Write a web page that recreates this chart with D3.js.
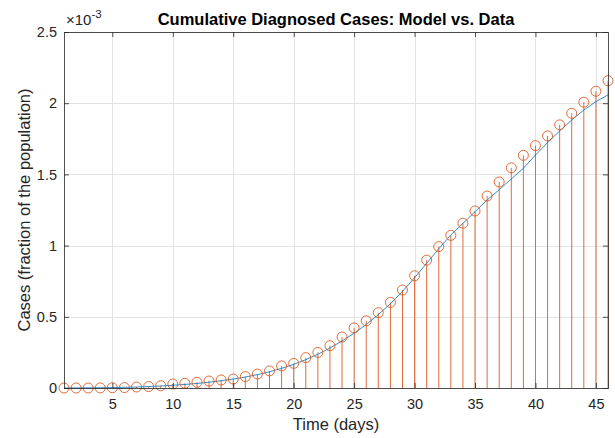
<!DOCTYPE html>
<html><head><meta charset="utf-8">
<script src="https://cdn.jsdelivr.net/npm/d3@7"></script>
<style>
html,body{margin:0;padding:0;background:#fff;}
svg{display:block;font-family:"Liberation Sans",Arial,Helvetica,sans-serif;}
</style></head>
<body>
<svg id="chart" width="615" height="438"></svg>
<script>
// Days
const days = d3.range(1, 47);
// Observed cumulative diagnosed cases (fraction of population)
const dataCases = [
  0, 0, 0, 0.0005e-3, 0.002e-3, 0.003e-3, 0.007e-3, 0.010e-3, 0.016e-3, 0.028e-3,
  0.033e-3, 0.040e-3, 0.049e-3, 0.056e-3, 0.063e-3, 0.080e-3, 0.098e-3, 0.120e-3, 0.155e-3, 0.173e-3,
  0.213e-3, 0.250e-3, 0.297e-3, 0.358e-3, 0.422e-3, 0.472e-3, 0.529e-3, 0.601e-3, 0.688e-3, 0.788e-3,
  0.898e-3, 0.993e-3, 1.072e-3, 1.157e-3, 1.243e-3, 1.348e-3, 1.447e-3, 1.546e-3, 1.634e-3, 1.702e-3,
  1.770e-3, 1.848e-3, 1.929e-3, 2.007e-3, 2.084e-3, 2.158e-3
];
// Model prediction
const modelCases = [
  0, 0.0005e-3, 0.001e-3, 0.002e-3, 0.003e-3, 0.005e-3, 0.007e-3, 0.010e-3, 0.014e-3, 0.019e-3,
  0.025e-3, 0.032e-3, 0.041e-3, 0.051e-3, 0.063e-3, 0.077e-3, 0.094e-3, 0.114e-3, 0.138e-3, 0.166e-3,
  0.199e-3, 0.237e-3, 0.281e-3, 0.330e-3, 0.385e-3, 0.446e-3, 0.515e-3, 0.592e-3, 0.678e-3, 0.774e-3,
  0.876e-3, 0.978e-3, 1.074e-3, 1.156e-3, 1.238e-3, 1.320e-3, 1.392e-3, 1.468e-3, 1.543e-3, 1.636e-3,
  1.723e-3, 1.805e-3, 1.882e-3, 1.952e-3, 2.011e-3, 2.058e-3
];
const xTicks = [5, 10, 15, 20, 25, 30, 35, 40, 45];
const yTicks = [0, 0.5e-3, 1e-3, 1.5e-3, 2e-3, 2.5e-3];
const yTickLabels = ["0", "0.5", "1", "1.5", "2", "2.5"];

const svg = d3.select("#chart");
const L = 64, R = 608, T = 32, B = 388;
const x = d3.scaleLinear().domain([1, 46]).range([L, R]);
const y = d3.scaleLinear().domain([0, 2.5e-3]).range([B, T]);
const axisCol = "#262626";
const gridCol = "#e3e3e3";
const orange = "#D95319";
const stemCol = "#E26A3C";
const blue = "#0072BD";

// grid
const g = svg.append("g");
g.selectAll(".vg").data(xTicks).join("line")
  .attr("x1", d => Math.round(x(d)) + 0.5).attr("x2", d => Math.round(x(d)) + 0.5).attr("y1", T).attr("y2", B)
  .attr("stroke", gridCol).attr("stroke-width", 1);
g.selectAll(".hg").data(yTicks).join("line")
  .attr("x1", L).attr("x2", R).attr("y1", d => Math.round(y(d)) + 0.5).attr("y2", d => Math.round(y(d)) + 0.5)
  .attr("stroke", gridCol).attr("stroke-width", 1);

// stems
const pts = days.map((d, i) => ({ d, v: dataCases[i], m: modelCases[i] }));
svg.append("g").selectAll("line").data(pts).join("line")
  .attr("x1", p => x(p.d)).attr("x2", p => x(p.d))
  .attr("y1", y(0)).attr("y2", p => y(p.v))
  .attr("stroke", stemCol).attr("stroke-width", 1);

// model line
const line = d3.line().x(p => x(p.d)).y(p => y(p.m));
svg.append("path").datum(pts).attr("d", line)
  .attr("fill", "none").attr("stroke", blue).attr("stroke-width", 1).attr("opacity", 0.8);

// circles
svg.append("g").selectAll("circle").data(pts).join("circle")
  .attr("cx", p => x(p.d)).attr("cy", p => y(p.v)).attr("r", 5)
  .attr("fill", "none").attr("stroke", orange).attr("stroke-width", 1).attr("opacity", 0.85);

// axes
const xAxis = d3.axisBottom(x).tickValues(xTicks).tickSize(-5).tickPadding(11).tickFormat(d3.format("d"));
const xAxisTop = d3.axisTop(x).tickValues(xTicks).tickSize(-5).tickFormat("");
const yAxis = d3.axisLeft(y).tickValues(yTicks).tickSize(-5).tickPadding(7).tickFormat((d, i) => yTickLabels[i]);
const yAxisRight = d3.axisRight(y).tickValues(yTicks).tickSize(-5).tickFormat("");

function style(sel) {
  sel.selectAll("path").attr("stroke", axisCol).attr("stroke-width", 1).attr("opacity", 0.8);
  sel.selectAll("line").attr("stroke", axisCol).attr("stroke-width", 1).attr("opacity", 0.8);
  sel.selectAll("text").attr("fill", axisCol).attr("font-size", 14.5)
    .attr("font-family", "'Liberation Sans',Arial,sans-serif");
}
svg.append("g").attr("transform", `translate(0,${B})`).call(xAxis).call(style);
svg.append("g").attr("transform", `translate(0,${T})`).call(xAxisTop).call(style);
svg.append("g").attr("transform", `translate(${L},0)`).call(yAxis).call(style);
svg.append("g").attr("transform", `translate(${R},0)`).call(yAxisRight).call(style);
svg.selectAll(".domain").attr("d", null);
svg.append("rect").attr("x", L + 0.5).attr("y", T + 0.5).attr("width", R - L).attr("height", B - T)
  .attr("fill", "none").attr("stroke", axisCol).attr("stroke-width", 1).attr("opacity", 0.8);

// exponent
const ex = svg.append("text").attr("x", 66).attr("y", 25).attr("fill", axisCol).attr("font-size", 15);
ex.append("tspan").text("×10");
ex.append("tspan").attr("dy", -7).attr("font-size", 11.5).text("-3");

// title
svg.append("text").attr("x", (L + R) / 2).attr("y", 25).attr("text-anchor", "middle")
  .attr("font-size", 16.5).attr("font-weight", "bold").attr("fill", "#000")
  .text("Cumulative Diagnosed Cases: Model vs. Data");

// x label
svg.append("text").attr("x", (L + R) / 2).attr("y", 430).attr("text-anchor", "middle")
  .attr("font-size", 16.5).attr("fill", axisCol).text("Time (days)");

// y label
svg.append("text").attr("transform", `translate(30,${(T + B) / 2}) rotate(-90)`)
  .attr("text-anchor", "middle").attr("font-size", 16.5).attr("fill", axisCol)
  .text("Cases (fraction of the population)");
</script>
</body></html>
